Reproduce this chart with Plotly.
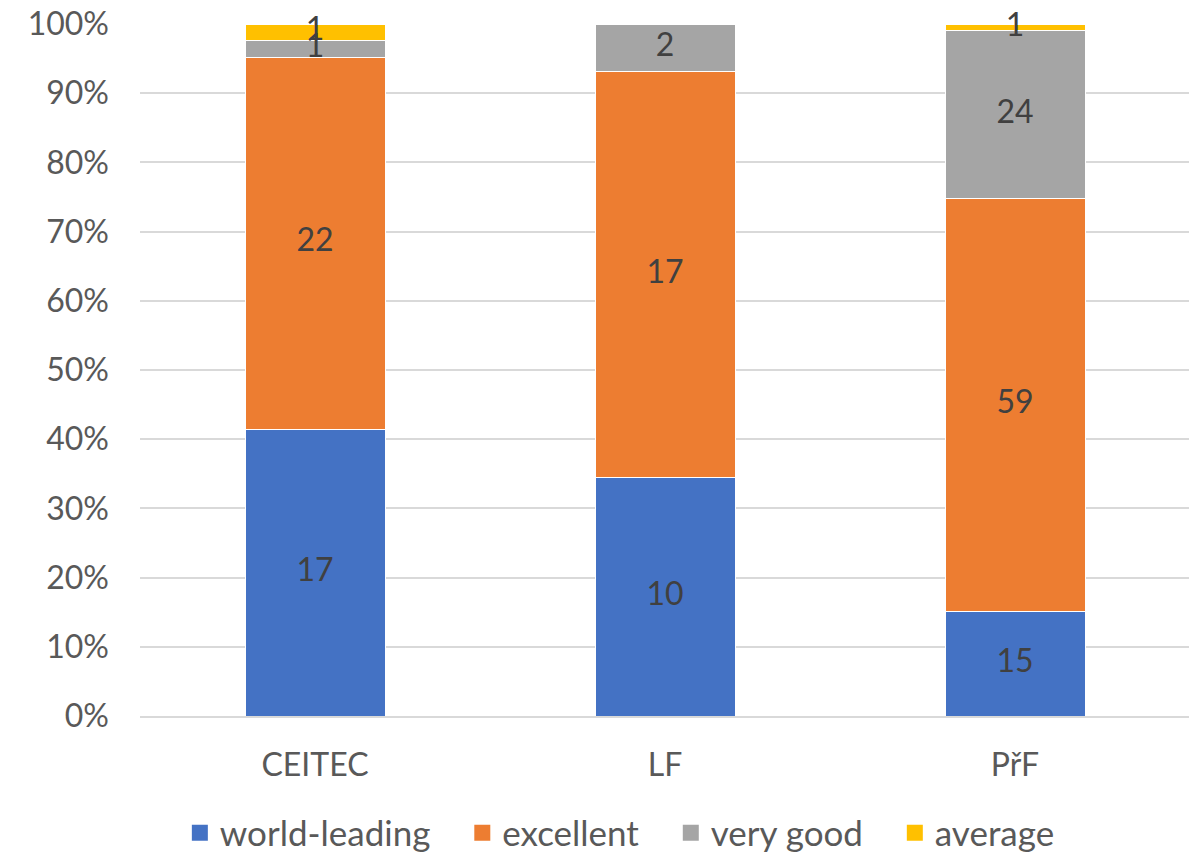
import plotly.graph_objects as go

categories = ["CEITEC", "LF", "PřF"]
series_names = ["world-leading", "excellent", "very good", "average"]
world_leading = [17, 10, 15]
excellent = [22, 17, 59]
very_good = [1, 2, 24]
average = [1, 0, 1]
colors = ["#4472C4", "#ED7D31", "#A5A5A5", "#FFC000"]
tick_vals = [0, 10, 20, 30, 40, 50, 60, 70, 80, 90, 100]
tick_text = [f"{v}%" for v in tick_vals]

FONT = "Lato"
FS = 32
series = [world_leading, excellent, very_good, average]
totals = [sum(s[i] for s in series) for i in range(len(categories))]

fig = go.Figure()
for name, vals, col in zip(series_names, series, colors):
    fig.add_trace(go.Bar(
        x=categories, y=vals, name=name, showlegend=False,
        marker=dict(color=col, line=dict(color="white", width=1)),
        hoverinfo="skip",
    ))

# data labels at segment centres (percent of category total)
lx, ly, lt = [], [], []
for i, c in enumerate(categories):
    base = 0.0
    for s in series:
        v = s[i]
        pct = 100.0 * v / totals[i]
        if v > 0:
            lx.append(c)
            ly.append(base + pct / 2)
            lt.append(str(v))
        base += pct
fig.add_trace(go.Scatter(x=lx, y=ly, text=lt, mode="text", showlegend=False,
                         cliponaxis=False,
                         textfont=dict(family=FONT, size=FS, color="#404040"),
                         hoverinfo="skip"))

# legend entries (trailing no-break spaces widen the gap between entries)
pad = "\u00a0" * 3
for k, (name, col) in enumerate(zip(series_names, colors)):
    label = name + (pad if k < len(series_names) - 1 else "")
    fig.add_trace(go.Scatter(x=[None], y=[None], mode="markers", name=label,
                             marker=dict(symbol="square", size=19, color=col)))

fig.update_layout(
    barmode="stack", barnorm="percent", bargap=0.6,
    width=1189, height=844,
    margin=dict(l=132, r=7, t=16, b=136, autoexpand=False),
    plot_bgcolor="white", paper_bgcolor="white",
    font=dict(family=FONT, size=FS, color="#595959"),
    legend=dict(orientation="h", x=0.457, xanchor="center", y=-0.169, yanchor="middle",
                font=dict(family=FONT, size=35, color="#595959"),
                traceorder="normal", itemsizing="trace", itemwidth=30),
    showlegend=True,
)
fig.update_yaxes(range=[0, 100], tickvals=tick_vals, ticktext=tick_text,
                 showgrid=True, gridcolor="#D9D9D9", gridwidth=1.5, zeroline=False,
                 ticks="", ticklabelstandoff=30, ticklabeloverflow="allow",
                 tickfont=dict(family=FONT, size=FS, color="#595959"))
fig.update_xaxes(showline=True, linecolor="#D9D9D9", linewidth=1.5, ticks="",
                 ticklabelstandoff=20, range=[-0.5, 2.5], ticklabeloverflow="allow",
                 tickfont=dict(family=FONT, size=FS, color="#595959"))
fig.write_html("out.html")
